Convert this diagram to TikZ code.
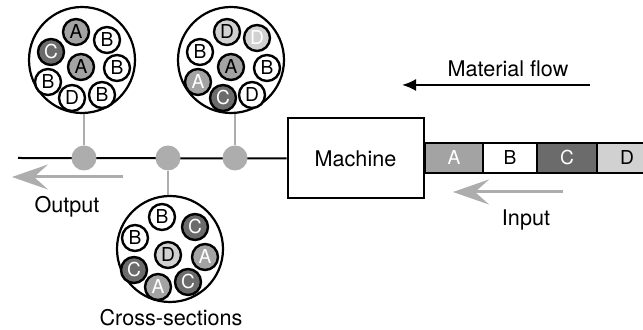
\documentclass[tikz,border=0pt]{standalone}
\usepackage{fontspec}
\setmainfont{TeX Gyre Heros}
\usetikzlibrary{arrows.meta}
\definecolor{tintA}{gray}{0.64}
\definecolor{tintC}{gray}{0.42}
\definecolor{tintD}{gray}{0.82}
\definecolor{wire}{gray}{0.68}
\tikzset{
  ball/.style={circle, draw, line width=1.2pt, minimum size=13pt, inner sep=0pt, font=\fontsize{9.6}{10}\selectfont},
  bB/.style={ball, fill=white},
  bA/.style={ball, fill=tintA},
  bAw/.style={ball, fill=tintA, text=white},
  bC/.style={ball, fill=tintC, text=white},
  bD/.style={ball, fill=tintD},
  bDw/.style={ball, fill=tintD, text=white},
  xsec/.style={circle, draw, line width=1.1pt, fill=white, minimum size=53pt, inner sep=0pt},
  tap/.style={circle, fill=wire, minimum size=12.5pt, inner sep=0pt},
  tag/.style={font=\fontsize{10.8}{12}\selectfont},
  cell/.style={font=\fontsize{9.6}{10}\selectfont},
  stem/.style={draw=wire, line width=1pt},
  grayarrow/.style={draw=wire, line width=1.5pt, -{Stealth[length=18pt,width=12.5pt,inset=7pt]}}
}
\begin{document}
\begin{tikzpicture}[x=0.5pt, y=-0.5pt]
\clip (0,0) rectangle (643,330);
% machine and the line leaving it
\node[draw, line width=1pt, minimum width=68pt, minimum height=40pt, tag] (machine) at (355.5,158.5) {Machine};
\coordinate (lineend) at (18,158);
\draw[line width=1pt] (lineend) -- (machine.west);
% incoming strip
\foreach \name/\xa/\xb/\fillc/\textc in {A/425/483/tintA/white, B/483/537/white/black, C/537/597/tintC/white, D/597/657/tintD/black}
{
    \draw[fill=\fillc, line width=1pt] (\xa,143) rectangle (\xb,173);
    \node[cell, text=\textc] (cell\name) at ({(\xa+\xb)/2},158) {\name};
}
% taps on the line
\node[tap] (tap1) at (84,158) {};
\node[tap] (tap2) at (168,158) {};
\node[tap] (tap3) at (235,158) {};
% cross-sections
\node[xsec] (xsec1) at (82,60) {};
\node[xsec] (xsec2) at (231,60) {};
\node[xsec] (xsec3) at (170,249) {};
\draw[stem] (tap1) -- (tap1 |- xsec1.south);
\draw[stem] (tap3) -- (tap3 |- xsec2.south);
\draw[stem] (tap2) -- (tap2 |- xsec3.north);
\foreach \n/\x/\y/\t/\s in {1/76/32/A/bA, 2/107/40/B/bB, 3/51/52/C/bC, 4/81/67/A/bA, 5/117/68/B/bB, 6/48/82/B/bB, 7/72/98/D/bB, 8/102/95/B/bB}
    \node[\s] (p\n) at (\x,\y) {\t};
\foreach \n/\x/\y/\t/\s in {1/227/32/D/bD, 2/257/38/D/bDw, 3/200/52/B/bB, 4/231/67/A/bA, 5/267/68/B/bB, 6/198/82/A/bAw, 7/223/98/C/bC, 8/252/95/D/bB}
    \node[\s] (q\n) at (\x,\y) {\t};
\foreach \n/\x/\y/\t/\s in {1/162/217/B/bB, 2/195/227/C/bC, 3/135/238/B/bB, 4/168/255/D/bD, 5/205/257/A/bAw, 6/134/270/C/bC, 7/158/287/A/bAw, 8/188/282/C/bC}
    \node[\s] (r\n) at (\x,\y) {\t};
% arrows and labels
\coordinate (outstart) at (123,177);
\coordinate (outend) at (12,177);
\draw[grayarrow] (outstart) -- (outend);
\node[tag] (outputlbl) at (67,207) {Output};
\coordinate (instart) at (563,192);
\coordinate (inend) at (453,192);
\draw[grayarrow] (instart) -- (inend);
\node[tag] (inputlbl) at (526,220) {Input};
\coordinate (flowstart) at (590,85);
\coordinate (flowend) at (402,85);
\draw[line width=1pt, -{Latex[length=7pt,width=6pt]}] (flowstart) -- (flowend);
\node[tag] (flowlbl) at (508,69) {Material flow};
\node[tag] (sectionlbl) at (171,318) {Cross-sections};
\end{tikzpicture}
\end{document}
